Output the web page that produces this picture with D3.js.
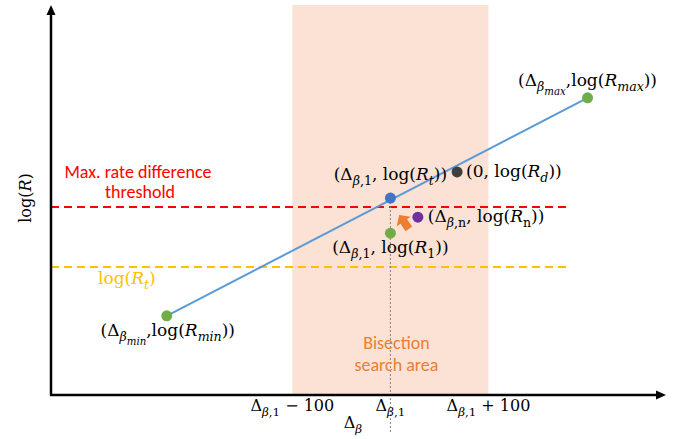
<!DOCTYPE html>
<meta charset="utf-8">
<script src="https://d3js.org/d3.v7.min.js"></script>
<style>
  body { margin: 0; background: #fff; }
  svg { display: block; }
</style>
<body>
<script>

var width = 683
var height = 439

// x: delta beta (rough units), y: log(R) (rough units)
var deltaBeta1 = -68
var searchHalf = 100
var lineX = [-296, 133]
var lineY = [2.03, 7.62]

var pointIds = ["min", "t", "d", "n", "one", "max"]
var pointX   = [-296, -68, 0, -40, -68, 133]
var pointY   = [2.03, 5.05, 5.72, 4.56, 4.15, 7.62]

var maxDiffLevel = 4.82
var rtLevel = 3.28
var levelEndX = 112

var tickValues = [deltaBeta1 - searchHalf, deltaBeta1, deltaBeta1 + searchHalf]

var x = d3.scaleLinear().domain([-414, 215]).range([51, 668])
var y = d3.scaleLinear().domain([0, 10]).range([395, 5])

var serif = "'DejaVu Serif', 'Liberation Serif', serif"
var sans = "Carlito, 'Liberation Sans', Arial, sans-serif"

var colors = { min: "#70ad47", max: "#70ad47", one: "#70ad47", t: "#4472c4", d: "#404040", n: "#7030a0" }

var svg = d3.select("body").append("svg")
            .attr("width", width)
            .attr("height", height)

svg.append("defs").append("marker")
   .attr("id", "axisarrow")
   .attr("viewBox", "0 -5 10 10")
   .attr("refX", 2)
   .attr("refY", 0)
   .attr("orient", "auto")
   .attr("markerUnits", "userSpaceOnUse")
   .attr("markerWidth", 11)
   .attr("markerHeight", 10)
   .append("path")
   .attr("d", "M0,-4.5 L10,0 L0,4.5 Z")
   .attr("fill", "#000")

// search band
svg.append("rect")
   .attr("x", x(deltaBeta1 - searchHalf))
   .attr("y", y(10))
   .attr("width", x(deltaBeta1 + searchHalf) - x(deltaBeta1 - searchHalf))
   .attr("height", y(0) - y(10))
   .attr("fill", "#fbe2d5")

// threshold lines
svg.append("line")
   .attr("x1", x(-414)).attr("x2", x(levelEndX))
   .attr("y1", y(maxDiffLevel)).attr("y2", y(maxDiffLevel))
   .attr("stroke", "#ff0000").attr("stroke-width", 2)
   .attr("stroke-dasharray", "8,5")

svg.append("line")
   .attr("x1", x(-414)).attr("x2", x(levelEndX))
   .attr("y1", y(rtLevel)).attr("y2", y(rtLevel))
   .attr("stroke", "#ffc000").attr("stroke-width", 2)
   .attr("stroke-dasharray", "8,5")

// dotted guide through delta_beta,1
svg.append("line")
   .attr("x1", x(deltaBeta1)).attr("x2", x(deltaBeta1))
   .attr("y1", y(pointY[1])).attr("y2", 432)
   .attr("stroke", "#7f7f7f").attr("stroke-width", 1)
   .attr("stroke-dasharray", "2,2")

// fitted line
svg.append("line")
   .attr("x1", x(lineX[0])).attr("y1", y(lineY[0]))
   .attr("x2", x(lineX[1])).attr("y2", y(lineY[1]))
   .attr("stroke", "#5b9bd5").attr("stroke-width", 2)

// axes
svg.append("line")
   .attr("x1", x(-414)).attr("y1", y(0))
   .attr("x2", x(-414)).attr("y2", 13)
   .attr("stroke", "#000").attr("stroke-width", 2.5)
   .attr("marker-end", "url(#axisarrow)")

svg.append("line")
   .attr("x1", x(-414) - 1).attr("y1", y(0))
   .attr("x2", 658).attr("y2", y(0))
   .attr("stroke", "#000").attr("stroke-width", 2.5)
   .attr("marker-end", "url(#axisarrow)")

// orange block arrow pointing from Rn towards the threshold crossing
var arr = svg.append("g")
   .attr("transform", "translate(" + (x(pointX[3]) - 13) + "," + (y(pointY[3]) + 6) + ") rotate(-125)")
arr.append("path")
   .attr("d", "M-7,-4 L2,-4 L2,-8.5 L10,0 L2,8.5 L2,4 L-7,4 Z")
   .attr("fill", "#ed7d31")

// points
svg.selectAll("circle.pt")
   .data(pointIds)
   .enter().append("circle")
   .attr("class", "pt")
   .attr("cx", (d, i) => x(pointX[i]))
   .attr("cy", (d, i) => y(pointY[i]))
   .attr("r", 5.5)
   .attr("fill", d => colors[d])

// math label helper: parts = [text, level, italic]
function mathText(px, py, parts, anchor, color, size) {
  size = size || 17
  var t = svg.append("text")
     .attr("x", px).attr("y", py)
     .attr("text-anchor", anchor || "start")
     .style("font-family", serif)
     .style("fill", color || "#000")
  var sizes = [size, size * 0.74, size * 0.6]
  var shift = [0, size * 0.3, size * 0.55]
  var prev = 0
  parts.forEach(p => {
    var lvl = p[1] || 0
    t.append("tspan")
     .attr("dy", shift[lvl] - shift[prev])
     .style("font-size", sizes[lvl] + "px")
     .style("font-style", p[2] ? "italic" : "normal")
     .text(p[0])
    prev = lvl
  })
  return t
}

var cx = i => x(pointX[i])
var cy = i => y(pointY[i])

mathText(cx(5), cy(5) - 12, [["(Δ"], ["β", 1, true], ["max", 2, true], [",log("], ["R", 0, true], ["max", 1, true], ["))"]], "middle")
mathText(cx(1), cy(1) - 18, [["(Δ"], ["β", 1, true], [",1", 1], [", log("], ["R", 0, true], ["t", 1, true], ["))"]], "middle")
mathText(cx(2) + 9, cy(2) + 5, [["(0, log("], ["R", 0, true], ["d", 1, true], ["))"]])
mathText(cx(3) + 10, cy(3) + 5, [["(Δ"], ["β", 1, true], [",n", 1], [", log("], ["R", 0, true], ["n", 1], ["))"]])
mathText(cx(4), cy(4) + 20, [["(Δ"], ["β", 1, true], [",1", 1], [", log("], ["R", 0, true], ["1", 1], ["))"]], "middle")
mathText(cx(0) + 1, cy(0) + 20, [["(Δ"], ["β", 1, true], ["min", 2, true], [",log("], ["R", 0, true], ["min", 1, true], ["))"]], "middle")

// threshold labels
mathText(98, y(rtLevel) + 17, [["log("], ["R", 0, true], ["t", 1, true], [")"]], "start", "#ffc000")

svg.append("text")
   .attr("x", 138).attr("y", 178)
   .attr("text-anchor", "middle")
   .style("font-family", sans).style("font-size", "18px")
   .style("fill", "#ff0000")
   .text("Max. rate difference")
svg.append("text")
   .attr("x", 140).attr("y", 198)
   .attr("text-anchor", "middle")
   .style("font-family", sans).style("font-size", "18px")
   .style("fill", "#ff0000")
   .text("threshold")

// band label
var bandMid = x(deltaBeta1) + 6
svg.append("text")
   .attr("x", bandMid).attr("y", 349)
   .attr("text-anchor", "middle")
   .style("font-family", sans).style("font-size", "18px")
   .style("fill", "#ed7d31")
   .text("Bisection")
svg.append("text")
   .attr("x", bandMid).attr("y", 371)
   .attr("text-anchor", "middle")
   .style("font-family", sans).style("font-size", "18px")
   .style("fill", "#ed7d31")
   .text("search area")

// x tick labels
var tickSuffix = [" − 100", "", " + 100"]
tickValues.forEach((v, i) => {
  mathText(x(v), 411, [["Δ"], ["β", 1, true], [",1", 1], [tickSuffix[i]]], "middle", "#000", 16)
})

// axis titles
mathText(353, 428, [["Δ"], ["β", 1, true]], "middle", "#000", 16)

var yl = mathText(0, 0, [["log("], ["R", 0, true], [")"]], "middle", "#000", 16)
yl.attr("transform", "translate(31,198) rotate(-90)")

</script>
</body>
